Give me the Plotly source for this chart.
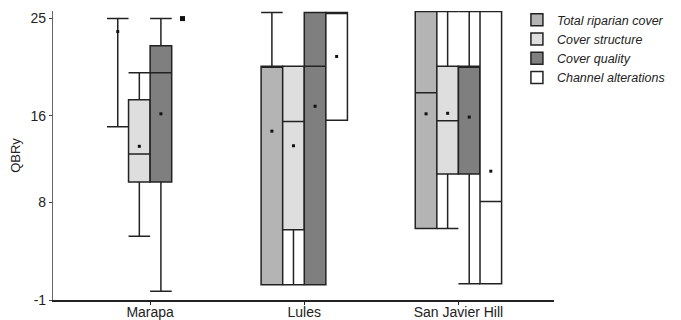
import plotly.graph_objects as go

categories = ["Marapa", "Lules", "San Javier Hill"]
series = ["Total riparian cover", "Cover structure", "Cover quality", "Channel alterations"]
colors = ["#b4b4b4", "#dedede", "#7f7f7f", "#ffffff"]

# Precomputed box statistics per series, one value per site (None = no box drawn)
q1 = {
    "Total riparian cover": [25.0, 0.4, 5.6],
    "Cover structure": [9.9, 5.5, 10.65],
    "Cover quality": [9.9, 0.4, 10.65],
    "Channel alterations": [None, 15.6, 0.5],
}
median = {
    "Total riparian cover": [25.0, 20.6, 18.15],
    "Cover structure": [12.5, 15.5, 15.55],
    "Cover quality": [20.0, 20.6, 20.6],
    "Channel alterations": [None, 25.55, 8.1],
}
q3 = {
    "Total riparian cover": [25.0, 20.6, 25.65],
    "Cover structure": [17.5, 20.6, 20.6],
    "Cover quality": [22.5, 25.55, 20.6],
    "Channel alterations": [None, 25.55, 25.65],
}
lower = {
    "Total riparian cover": [15.0, 0.4, 5.6],
    "Cover structure": [4.9, 0.4, 5.6],
    "Cover quality": [-0.2, 0.4, 0.5],
    "Channel alterations": [None, 15.6, 0.5],
}
upper = {
    "Total riparian cover": [25.0, 25.55, 25.65],
    "Cover structure": [20.0, 20.6, 25.65],
    "Cover quality": [25.0, 25.55, 25.65],
    "Channel alterations": [None, 25.55, 25.65],
}
means = {
    "Total riparian cover": [23.8, 14.6, 16.2],
    "Cover structure": [13.2, 13.25, 16.25],
    "Cover quality": [16.2, 16.9, 15.9],
    "Channel alterations": [None, 21.5, 10.9],
}
# single-value observations drawn as points
outliers = {
    "Channel alterations": [25.0, None, None],
}

y_ticks = [25, 16, 8, -1]

box_w = 0.14
fig = go.Figure()
for si, s in enumerate(series):
    off = (si - 1.5) * box_w
    idx = [i for i in range(len(categories)) if q1[s][i] is not None]
    fig.add_trace(go.Box(
        name=s,
        x=[i + off for i in idx],
        q1=[q1[s][i] for i in idx],
        median=[median[s][i] for i in idx],
        q3=[q3[s][i] for i in idx],
        lowerfence=[lower[s][i] for i in idx],
        upperfence=[upper[s][i] for i in idx],
        width=box_w,
        whiskerwidth=1,
        boxpoints=False,
        fillcolor=colors[si],
        line=dict(color="#222222", width=1.5),
        legendgroup=s,
    ))
    midx = [i for i in range(len(categories)) if means[s][i] is not None]
    fig.add_trace(go.Scatter(
        x=[i + off for i in midx],
        y=[means[s][i] for i in midx],
        mode="markers",
        marker=dict(symbol="square", size=3, color="#111111"),
        showlegend=False,
        hoverinfo="skip",
    ))
    if s in outliers:
        oidx = [i for i in range(len(categories)) if outliers[s][i] is not None]
        fig.add_trace(go.Scatter(
            x=[i + off for i in oidx],
            y=[outliers[s][i] for i in oidx],
            mode="markers",
            marker=dict(symbol="square", size=5, color="#111111"),
            showlegend=False,
            hoverinfo="skip",
        ))

fig.update_layout(
    width=673, height=312,
    margin=dict(l=45, r=127, t=3, b=20, autoexpand=False),
    paper_bgcolor="white", plot_bgcolor="white",
    font=dict(family="Liberation Sans, Arial, sans-serif", size=14, color="#222222"),
    showlegend=True,
    legend=dict(
        x=0.926, xanchor="left", y=1.02, yanchor="top",
        font=dict(size=12.5, style="italic"),
        bgcolor="rgba(0,0,0,0)",
        itemwidth=30,
        tracegroupgap=0,
    ),
    xaxis=dict(
        range=[-0.63, 2.62],
        tickvals=list(range(len(categories))),
        ticktext=categories,
        showgrid=False, zeroline=False, automargin=False,
        showline=True, linecolor="#222222", linewidth=1.5,
        ticks="outside", ticklen=3, tickcolor="#222222",
        tickfont=dict(size=14),
        ticklabelstandoff=-5,
    ),
    yaxis=dict(
        range=[-1, 25.7],
        tickvals=y_ticks,
        ticktext=[str(t) for t in y_ticks],
        showgrid=False, zeroline=False, automargin=False,
        showline=True, linecolor="#666666", linewidth=1.2,
        ticks="outside", ticklen=3, tickcolor="#444444",
        tickfont=dict(size=14),
        title=dict(text="QBRy", font=dict(size=13), standoff=6),
    ),
)

fig.write_html("out.html")
